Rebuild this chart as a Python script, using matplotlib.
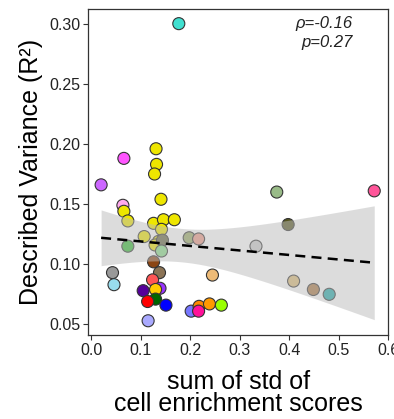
import numpy as np
import matplotlib
matplotlib.use("Agg")
import matplotlib.pyplot as plt

plt.rcParams['font.family'] = ['Liberation Sans', 'DejaVu Sans']

# one point per sample: x, y, fill colour
x_vals = [0.177, 0.131, 0.066, 0.132, 0.128, 0.020, 0.141, 0.064, 0.066, 0.074,
          0.126, 0.146, 0.168, 0.142, 0.107, 0.136, 0.129, 0.074, 0.144, 0.142,
          0.198, 0.217, 0.126, 0.043, 0.046, 0.138, 0.245, 0.124, 0.139, 0.130,
          0.105, 0.130, 0.114, 0.151, 0.115, 0.202, 0.218, 0.217, 0.239, 0.263,
          0.375, 0.572, 0.398, 0.333, 0.409, 0.449, 0.481]
y_vals = [0.300, 0.196, 0.188, 0.183, 0.175, 0.166, 0.154, 0.149, 0.144, 0.136,
          0.134, 0.137, 0.137, 0.129, 0.123, 0.119, 0.116, 0.115, 0.120, 0.111,
          0.122, 0.121, 0.102, 0.093, 0.083, 0.093, 0.091, 0.087, 0.080, 0.079,
          0.078, 0.071, 0.069, 0.066, 0.053, 0.061, 0.065, 0.061, 0.067, 0.066,
          0.160, 0.161, 0.133, 0.115, 0.086, 0.079, 0.075]
colors = ['#40E0D0', '#EEE600', '#FF55FF', '#EEE600', '#EEE600', '#CC66FF', '#EEE600', '#FFAAEE', '#EEE600', '#EEE600',
          '#EEE600', '#EEE600', '#EEE600', '#EEE600', '#EEE600', '#EEE600', '#EEE600', '#33BB33', '#666644', '#88DD88',
          '#99AA66', '#EE9988', '#8B4513', '#999999', '#99DDEE', '#8B7355', '#EEBB77', '#FF5555', '#9933FF', '#FFCC00',
          '#550099', '#006600', '#FF0000', '#0000FF', '#AAAAFF', '#7777FF', '#FF8800', '#FF1199', '#FF9900', '#99FF00',
          '#99BB88', '#FF5599', '#555522', '#CCCCCC', '#DDBB77', '#AA7744', '#22AAAA']

x_ticks = [0.0, 0.1, 0.2, 0.3, 0.4, 0.5, 0.6]
y_ticks = [0.05, 0.10, 0.15, 0.20, 0.25, 0.30]
rho_text = "ρ=-0.16"
p_text = "p=0.27"

x = np.array(x_vals)
y = np.array(y_vals)

fig = plt.figure(figsize=(3.94, 4.19), dpi=100)
ax = fig.add_axes([0.224, 0.200, 0.761, 0.778])

ax.scatter(x, y, s=75, c=colors, edgecolors='#333333', linewidths=0.8, zorder=2)

# linear fit with 95% confidence band
n = len(x)
slope, icept = np.polyfit(x, y, 1)
xs = np.linspace(x.min(), x.max(), 100)
ys = icept + slope * xs
resid = y - (icept + slope * x)
s_err = np.sqrt(np.sum(resid ** 2) / (n - 2))
se = s_err * np.sqrt(1 / n + (xs - x.mean()) ** 2 / np.sum((x - x.mean()) ** 2))
t = 2.014
ax.fill_between(xs, ys - t * se, ys + t * se, color='#BBBBBB', alpha=0.5, lw=0, zorder=3)
ax.plot(xs, ys, color='black', lw=1.8, ls=(0, (4, 2.5)), zorder=4)

ax.set_xlim(-0.006, 0.6)
ax.set_ylim(0.041, 0.312)
ax.set_xticks(x_ticks)
ax.set_xticklabels([f"{v:.1f}" for v in x_ticks])
ax.set_yticks(y_ticks)
ax.set_yticklabels([f"{v:.2f}" for v in y_ticks])
ax.tick_params(labelsize=11.5, length=3.5, width=0.8, color='#333333', labelcolor='#222222', pad=2)
for sp in ax.spines.values():
    sp.set_color('#333333')
    sp.set_linewidth(0.9)

ax.set_ylabel("Described Variance (R²)", fontsize=18, labelpad=5)
ax.set_xlabel("sum of std of\ncell enrichment scores", fontsize=18, labelpad=9, linespacing=0.88)

ax.text(0.882, 0.942, rho_text, transform=ax.transAxes, ha='right', va='baseline',
        fontsize=12, style='italic', color='#222222')
ax.text(0.882, 0.885, p_text, transform=ax.transAxes, ha='right', va='baseline',
        fontsize=12, style='italic', color='#222222')

fig.savefig("out.png", dpi=100)
